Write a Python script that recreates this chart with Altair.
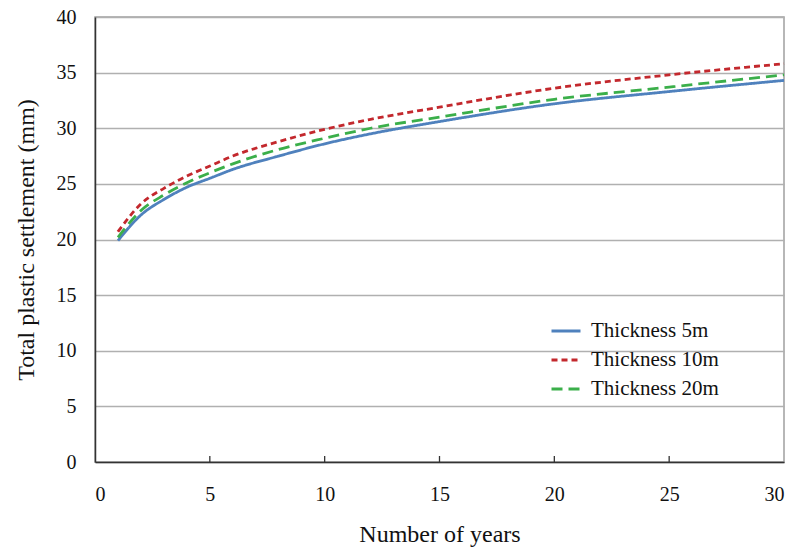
import altair as alt
import pandas as pd

years = [1, 2, 3, 4, 5, 6, 8, 10, 12, 15, 20, 25, 30]
thick_5m = [19.9, 22.2, 23.6, 24.7, 25.5, 26.3, 27.5, 28.6, 29.5, 30.6, 32.2, 33.3, 34.3]
thick_10m = [20.7, 23.2, 24.6, 25.7, 26.6, 27.5, 28.8, 29.9, 30.8, 31.9, 33.6, 34.8, 35.8]
thick_20m = [20.2, 22.6, 24.0, 25.1, 26.0, 26.8, 28.1, 29.1, 30.0, 31.0, 32.6, 33.7, 34.8]
series_names = ["Thickness 5m", "Thickness 10m", "Thickness 20m"]
x_ticks = [0, 5, 10, 15, 20, 25, 30]
y_ticks = [0, 5, 10, 15, 20, 25, 30, 35, 40]
inner_ticks = [5, 10, 15, 20, 25]

rows = []
for name, vals in zip(series_names, [thick_5m, thick_10m, thick_20m]):
    for i, (yr, v) in enumerate(zip(years, vals)):
        rows.append({"year": yr, "value": v, "series": name, "order": i})
df = pd.DataFrame(rows)

FONT = "Liberation Serif"

x_scale = alt.Scale(domain=[0, 30], nice=False, zero=False)
y_scale = alt.Scale(domain=[0, 40], nice=False)

lines = alt.Chart(df).mark_line(strokeWidth=2.8, interpolate="monotone").encode(
    x=alt.X("year:Q", scale=x_scale,
            axis=alt.Axis(values=x_ticks, title="Number of years", grid=False,
                          tickSize=0, labelPadding=22, titlePadding=18,
                          domainColor="#333333", domainWidth=1.5)),
    y=alt.Y("value:Q", scale=y_scale,
            axis=alt.Axis(values=y_ticks, title="Total plastic settlement (mm)",
                          grid=True, gridColor="#B0B0B0", gridWidth=1.3,
                          tickSize=0, labelPadding=19, titlePadding=18,
                          domainColor="#333333", domainWidth=1.5)),
    color=alt.Color("series:N",
                    scale=alt.Scale(domain=series_names,
                                    range=["#4F81BD", "#C3282D", "#3BAF4A"]),
                    legend=alt.Legend(title=None, orient="none", legendX=455, legendY=298,
                                      symbolType="stroke", symbolSize=841,
                                      symbolStrokeWidth=2.8, labelFontSize=21,
                                      labelFont=FONT, labelColor="#111111",
                                      rowPadding=3, labelOffset=9, padding=0)),
    strokeDash=alt.StrokeDash("series:N",
                              scale=alt.Scale(domain=series_names,
                                              range=[[1, 0], [6, 4], [11, 6]]),
                              legend=None),
    order="order:Q",
)

tick_df = pd.DataFrame({"t": inner_ticks})
ticks = alt.Chart(tick_df).mark_rule(color="#333333", strokeWidth=1.3).encode(
    x=alt.X("t:Q", scale=x_scale),
    y=alt.value(445),
    y2=alt.value(439),
)

chart = alt.layer(lines, ticks).properties(
    width=689, height=445,
    background="white",
    autosize=alt.AutoSizeParams(type="none"),
    padding={"left": 95, "top": 17, "right": 16, "bottom": 87},
).configure_view(
    stroke="#A0A0A0", strokeWidth=1.5
).configure_axis(
    labelFont=FONT, titleFont=FONT, labelFontSize=20, titleFontSize=24,
    labelColor="#111111", titleColor="#111111", titleFontWeight="normal",
)

chart.save("out.html", embed_options={"renderer": "svg", "actions": False})
